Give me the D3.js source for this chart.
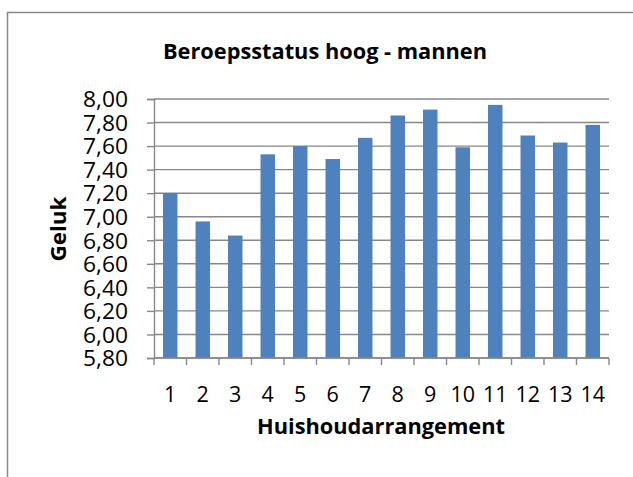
<!DOCTYPE html>
<html>
<head>
<meta charset="utf-8">
<script src="https://cdn.jsdelivr.net/npm/d3@7"></script>
<style>
  body { margin: 0; background: #fff; }
  text { font-family: "Open Sans", Lato, sans-serif; fill: #000; }
</style>
</head>
<body>
<script>
// Huishoudarrangement 1..14
const categories = ["1", "2", "3", "4", "5", "6", "7", "8", "9", "10", "11", "12", "13", "14"];
const geluk = [7.20, 6.96, 6.84, 7.53, 7.60, 7.49, 7.67, 7.86, 7.91, 7.59, 7.95, 7.69, 7.63, 7.78];
const yTicks = [5.8, 6.0, 6.2, 6.4, 6.6, 6.8, 7.0, 7.2, 7.4, 7.6, 7.8, 8.0];

const width = 633, height = 477;
const plotLeft = 154, plotRight = 609, plotTop = 99, plotBottom = 358;

const svg = d3.select("body").append("svg")
    .attr("width", width)
    .attr("height", height);

// chart frame
svg.append("rect")
    .attr("x", 7.5).attr("y", 12.5)
    .attr("width", 700).attr("height", 600)
    .attr("fill", "none")
    .attr("stroke", "#8a8a8a")
    .attr("stroke-width", 1.5);

var x = d3.scaleBand()
    .domain(categories)
    .range([plotLeft, plotRight])
    .paddingInner(0.555)
    .paddingOuter(0.2775);

var y = d3.scaleLinear()
    .domain([5.8, 8.0])
    .range([plotBottom, plotTop]);

const fmt = (v) => d3.format(".2f")(v).replace(".", ",");

// gridlines
svg.append("g")
  .selectAll("line")
  .data(yTicks)
  .enter().append("line")
  .attr("x1", plotLeft).attr("x2", plotRight)
  .attr("y1", d => y(d)).attr("y2", d => y(d))
  .attr("stroke", "#888")
  .attr("stroke-width", 1.4);

// bars
svg.append("g")
  .selectAll("rect")
  .data(geluk)
  .enter().append("rect")
  .attr("x", (d, i) => x(categories[i]))
  .attr("width", x.bandwidth())
  .attr("y", d => y(d))
  .attr("height", d => y(5.8) - y(d))
  .attr("fill", "#4f81bd");

// y axis
var yAxis = d3.axisLeft(y)
    .tickValues(yTicks)
    .tickFormat(fmt)
    .tickSize(7)
    .tickPadding(19);

var gy = svg.append("g")
    .attr("transform", `translate(${plotLeft},0)`)
    .call(yAxis);

// x axis: ticks sit between the categories
var gx = svg.append("g")
    .attr("transform", `translate(0,${plotBottom})`);

gx.append("line")
  .attr("x1", plotLeft).attr("x2", plotRight)
  .attr("stroke", "#888").attr("stroke-width", 1.4);

const step = x.step();
gx.selectAll("line.tick")
  .data(d3.range(categories.length + 1))
  .enter().append("line")
  .attr("class", "tick")
  .attr("x1", i => plotLeft + i * step).attr("x2", i => plotLeft + i * step)
  .attr("y1", 0).attr("y2", 7)
  .attr("stroke", "#888").attr("stroke-width", 1.4);

gx.selectAll("text")
  .data(categories)
  .enter().append("text")
  .attr("x", d => x(d) + x.bandwidth() / 2)
  .attr("y", 43.5)
  .attr("text-anchor", "middle")
  .style("font-size", "21.5px")
  .text(d => d);

gy.select(".domain").attr("stroke", "#888").attr("stroke-width", 1.4);
gy.selectAll(".tick line").attr("stroke", "#888").attr("stroke-width", 1.4);
gy.selectAll(".tick text")
  .attr("dy", "0.36em")
  .style("font-size", "21.5px")
  .style("font-family", "'Open Sans', sans-serif")
  .attr("textLength", 45)
  .attr("lengthAdjust", "spacingAndGlyphs");

// titles
svg.append("text")
  .attr("x", 325).attr("y", 59.3)
  .attr("text-anchor", "middle")
  .style("font-size", "21.5px")
  .style("font-weight", "bold")
  .attr("textLength", 324)
  .attr("lengthAdjust", "spacingAndGlyphs")
  .text("Beroepsstatus hoog - mannen");

svg.append("text")
  .attr("x", 381).attr("y", 433.5)
  .attr("text-anchor", "middle")
  .style("font-size", "21.5px")
  .style("font-weight", "bold")
  .attr("textLength", 248)
  .attr("lengthAdjust", "spacingAndGlyphs")
  .text("Huishoudarrangement");

svg.append("text")
  .attr("transform", "translate(66,229) rotate(-90)")
  .attr("text-anchor", "middle")
  .style("font-size", "21.5px")
  .style("font-weight", "bold")
  .attr("textLength", 65)
  .attr("lengthAdjust", "spacingAndGlyphs")
  .text("Geluk");
</script>
</body>
</html>
